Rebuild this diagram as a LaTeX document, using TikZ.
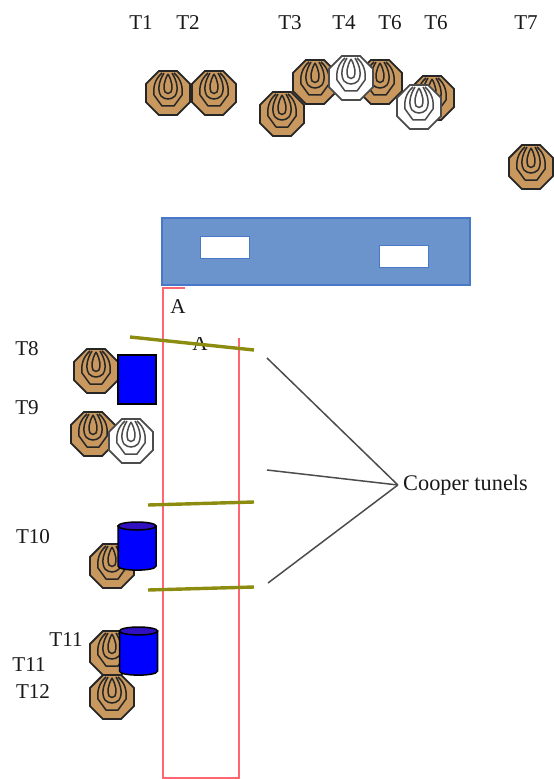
\documentclass[tikz,border=0pt]{standalone}
\usepackage{fontspec}
\setmainfont{Liberation Serif}
\usetikzlibrary{shapes.geometric}
\definecolor{capbrown}{HTML}{C8985F}
\definecolor{barblue}{HTML}{6C94CC}
\definecolor{barline}{HTML}{4A78C8}
\definecolor{wallred}{HTML}{FF6670}
\definecolor{cutolive}{HTML}{8C8C10}
\definecolor{tanktop}{HTML}{3010C0}
\begin{document}
\begin{tikzpicture}[x=0.2mm,y=-0.2mm,
 lbl/.style={font=\fontsize{12}{14}\selectfont,text=black!90,inner sep=0pt},
 wall/.style={draw=wallred,line width=0.5mm},
 cut/.style={draw=cutolive,line width=0.68mm},
 lead/.style={draw=black!70,line width=0.3mm},
 slot/.style={rectangle,draw=barline,fill=white,line width=0.2mm,minimum width=9.8mm,minimum height=4.4mm,inner sep=0pt},
 pics/tank/.style={code={
   \draw[fill=blue,line width=0.3mm] (-19,-20) -- (-19,20) .. controls (-19,25.5) and (19,25.5) .. (19,20) -- (19,-20) -- cycle;
   \draw[fill=tanktop,line width=0.3mm] (0,-20) ellipse (19 and 4);
 }},
 pics/cap/.style 2 args={code={
   \node[regular polygon,regular polygon sides=8,draw=#2,fill=#1,line width=0.36mm,
         minimum size=9.5mm,inner sep=0pt] (-oct) at (0,0) {};
   \draw[#2,line width=0.3mm,line join=round] (-6,-20) .. controls (-13,-14) and (-15,-6) .. (-14,2)
        -- (-6,13) -- (6,13) -- (14,2) .. controls (15,-6) and (13,-14) .. (6,-20);
   \draw[#2,line width=0.3mm] (-4,-20) .. controls (-9,-12) and (-11,-3) .. (-7,3)
        .. controls (-3,7) and (3,7) .. (7,3) .. controls (11,-3) and (9,-12) .. (4,-20);
   \draw[#2,line width=0.3mm] (0,-19) .. controls (-4,-12) and (-5,-5) .. (-3,-1)
        .. controls (-1,1) and (1,1) .. (3,-1) .. controls (5,-5) and (4,-12) .. (0,-19);
 }}]
\useasboundingbox (0,0) rectangle (553,779);
% top row
\node[lbl] (t1) at (141,23) {T1};
\node[lbl] (t2) at (188,23) {T2};
\node[lbl] (t3) at (290,23) {T3};
\node[lbl] (t4) at (344,23) {T4};
\node[lbl] (t5) at (390,23) {T6};
\node[lbl] (t6) at (436,23) {T6};
\node[lbl] (t7) at (526,23) {T7};
\pic (cap1) at (168,93) {cap={capbrown}{black!85}};
\pic (cap2) at (214,93) {cap={capbrown}{black!85}};
\pic (cap3) at (282,114) {cap={capbrown}{black!85}};
\pic (cap5) at (380,82) {cap={capbrown}{black!85}};
\pic (cap4) at (315,82) {cap={capbrown}{black!85}};
\pic (cap4w) at (351,78) {cap={white}{black!70}};
\pic (cap6) at (432,98) {cap={capbrown}{black!85}};
\pic (cap6w) at (419,107) {cap={white}{black!70}};
\pic (cap7) at (531,167) {cap={capbrown}{black!85}};
% bar
\node[rectangle,draw=barline,fill=barblue,line width=0.3mm,minimum width=61.6mm,minimum height=13.4mm,inner sep=0pt] (bar) at (316,251.5) {};
\node[slot] (slot1) at (224.5,247) {};
\node[slot] (slot2) at (403.5,256) {};
% red walls
\coordinate (w1) at (185,288);
\coordinate (w2) at (163,288);
\coordinate (w3) at (163,778);
\coordinate (w4) at (239,778);
\coordinate (w5) at (239,338);
\draw[wall] (w1) -- (w2) -- (w3) -- (w4) -- (w5);
\begin{scope}
\clip (165,290) rectangle (185,330);
\node[lbl] (a1) at (178,307) {A};
\end{scope}
\begin{scope}
\clip (180,337) rectangle (220,360);
\node[lbl] (a2) at (200,344) {A};
\end{scope}
% cuts
\coordinate (c1a) at (130,337);
\coordinate (c1b) at (254,350);
\coordinate (c2a) at (148,505);
\coordinate (c2b) at (254,502);
\coordinate (c3a) at (148,590);
\coordinate (c3b) at (254,587);
\draw[cut] (c1a) -- (c1b);
\draw[cut] (c2a) -- (c2b);
\draw[cut] (c3a) -- (c3b);
% left side
\node[lbl] (t8) at (27,349) {T8};
\node[lbl] (t9) at (27,408) {T9};
\node[lbl] (t10) at (33,537) {T10};
\node[lbl] (t11a) at (66,640) {T11};
\node[lbl] (t11b) at (29,665) {T11};
\node[lbl] (t12) at (33,692) {T12};
\pic (cap8) at (96,371) {cap={capbrown}{black!85}};
\node[rectangle,draw=black,fill=blue,line width=0.3mm,minimum width=7.6mm,minimum height=9.8mm,inner sep=0pt] (box8) at (137,379.5) {};
\pic (cap9) at (93,434) {cap={capbrown}{black!85}};
\pic (cap9w) at (131,441) {cap={white}{black!70}};
\pic (cap10) at (112,566) {cap={capbrown}{black!85}};
\pic (tank10) at (137,546) {tank};
\pic (cap11) at (112,653) {cap={capbrown}{black!85}};
\pic (cap12) at (112,697) {cap={capbrown}{black!85}};
\pic (tank11) at (138.5,651) {tank};
% label
\node[lbl,font=\fontsize{12.7}{14}\selectfont,inner sep=1mm] (cooper) at (465.5,485) {Cooper tunels};
\coordinate (l1) at (267,358);
\coordinate (l2) at (267,470);
\coordinate (l3) at (268,583);
\draw[lead] (cooper.west) -- (l1);
\draw[lead] (cooper.west) -- (l2);
\draw[lead] (cooper.west) -- (l3);
\end{tikzpicture}
\end{document}
